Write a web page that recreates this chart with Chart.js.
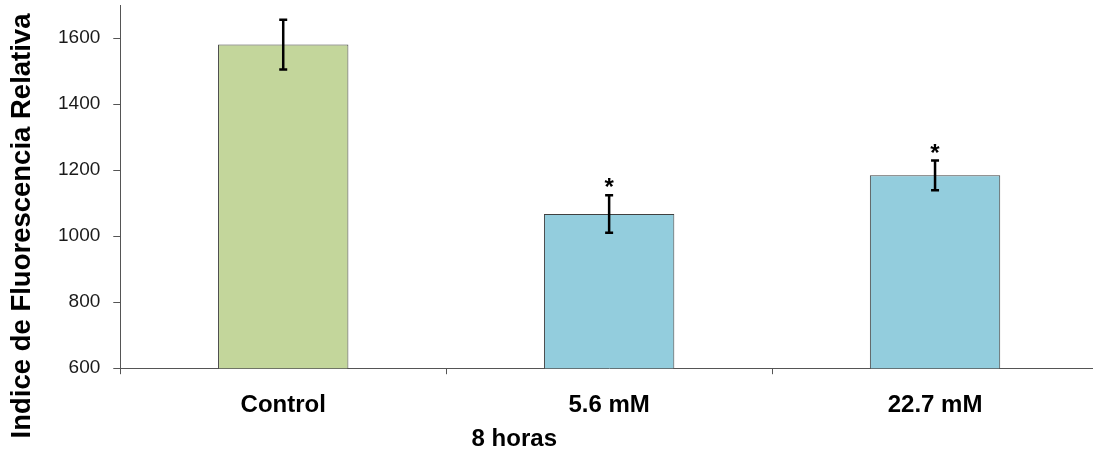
<!DOCTYPE html>
<html lang="es">
<head>
    <meta charset="UTF-8">
    <title>Indice de Fluorescencia Relativa - 8 horas</title>
    <script src="https://cdn.jsdelivr.net/npm/chart.js"></script>
    <style>
        html, body {
            margin: 0;
            padding: 0;
            background: #ffffff;
            overflow: hidden;
        }
        .chart-box {
            width: 1100px;
            height: 454px;
        }
    </style>
</head>
<body>

<div class="chart-box">
    <canvas id="fluoChart"></canvas>
</div>

<script>
    // Data
    const categories = ['Control', '5.6 mM', '22.7 mM'];
    const values = [1580, 1067, 1184];
    const errors = [75, 57, 45];
    const marks = ['', '*', '*'];
    const barColors = ['#C3D69B', '#93CDDD', '#93CDDD'];
    const yTitle = 'Indice de Fluorescencia Relativa';
    const xTitle = '8 horas';

    const FONT = '"Liberation Sans", Arial, sans-serif';

    // Error bars, stars, short y tick marks and the two axis captions
    const extrasPlugin = {
        id: 'extras',
        afterDatasetsDraw(chart) {
            const ctx = chart.ctx;
            const yScale = chart.scales.y;
            const meta = chart.getDatasetMeta(0);
            ctx.save();
            ctx.strokeStyle = '#000';
            ctx.lineWidth = 2.5;
            meta.data.forEach((bar, i) => {
                const top = yScale.getPixelForValue(values[i] + errors[i]);
                const bot = yScale.getPixelForValue(values[i] - errors[i]);
                ctx.beginPath();
                ctx.moveTo(bar.x, top);
                ctx.lineTo(bar.x, bot);
                ctx.moveTo(bar.x - 4, top);
                ctx.lineTo(bar.x + 4, top);
                ctx.moveTo(bar.x - 4, bot);
                ctx.lineTo(bar.x + 4, bot);
                ctx.stroke();
                if (marks[i]) {
                    ctx.fillStyle = '#000';
                    ctx.font = 'bold 24px ' + FONT;
                    ctx.textAlign = 'center';
                    ctx.textBaseline = 'alphabetic';
                    ctx.fillText(marks[i], bar.x, top);
                }
            });
            ctx.restore();
        },
        afterDraw(chart) {
            const ctx = chart.ctx;
            const area = chart.chartArea;
            const yScale = chart.scales.y;
            ctx.save();
            // y tick marks (7px, outside)
            ctx.strokeStyle = '#555';
            ctx.lineWidth = 1;
            yScale.ticks.forEach(t => {
                const y = Math.round(yScale.getPixelForValue(t.value)) + 0.5;
                ctx.beginPath();
                ctx.moveTo(area.left - 7, y);
                ctx.lineTo(area.left, y);
                ctx.stroke();
            });
            // x caption
            ctx.fillStyle = '#000';
            ctx.font = 'bold 24px ' + FONT;
            ctx.textAlign = 'center';
            ctx.textBaseline = 'middle';
            ctx.fillText(xTitle, area.left + (area.right - area.left) * 0.403, 439);
            // y caption
            ctx.translate(22, 226);
            ctx.rotate(-Math.PI / 2);
            ctx.font = 'bold 27.5px ' + FONT;
            ctx.fillText(yTitle, 0, 0);
            ctx.restore();
        }
    };

    const ctx = document.getElementById('fluoChart').getContext('2d');
    new Chart(ctx, {
        type: 'bar',
        data: {
            labels: categories,
            datasets: [{
                data: values,
                backgroundColor: barColors,
                borderColor: '#404040',
                borderWidth: 1,
                categoryPercentage: 1.0,
                barPercentage: 0.4
            }]
        },
        options: {
            responsive: true,
            maintainAspectRatio: false,
            animation: false,
            layout: {
                padding: { left: 58, right: 2, top: 5, bottom: 17 }
            },
            plugins: {
                legend: { display: false },
                tooltip: { enabled: false }
            },
            scales: {
                x: {
                    grid: {
                        display: true,
                        drawOnChartArea: false,
                        tickLength: 6,
                        color: '#555'
                    },
                    border: { color: '#555', width: 1 },
                    ticks: {
                        color: '#000',
                        padding: 17,
                        font: { family: FONT, size: 24, weight: 'bold' }
                    }
                },
                y: {
                    min: 600,
                    max: 1700,
                    afterBuildTicks: axis => {
                        axis.ticks = axis.ticks.filter(t => t.value <= 1600);
                    },
                    grid: {
                        display: true,
                        drawOnChartArea: false,
                        tickLength: 20,
                        tickColor: 'rgba(0,0,0,0)'
                    },
                    border: { color: '#555', width: 1 },
                    ticks: {
                        stepSize: 200,
                        color: '#1a1a1a',
                        padding: 0,
                        callback: v => String(v),
                        font: { family: FONT, size: 19, lineHeight: 0.2 }
                    }
                }
            }
        },
        plugins: [extrasPlugin]
    });
</script>

</body>
</html>
